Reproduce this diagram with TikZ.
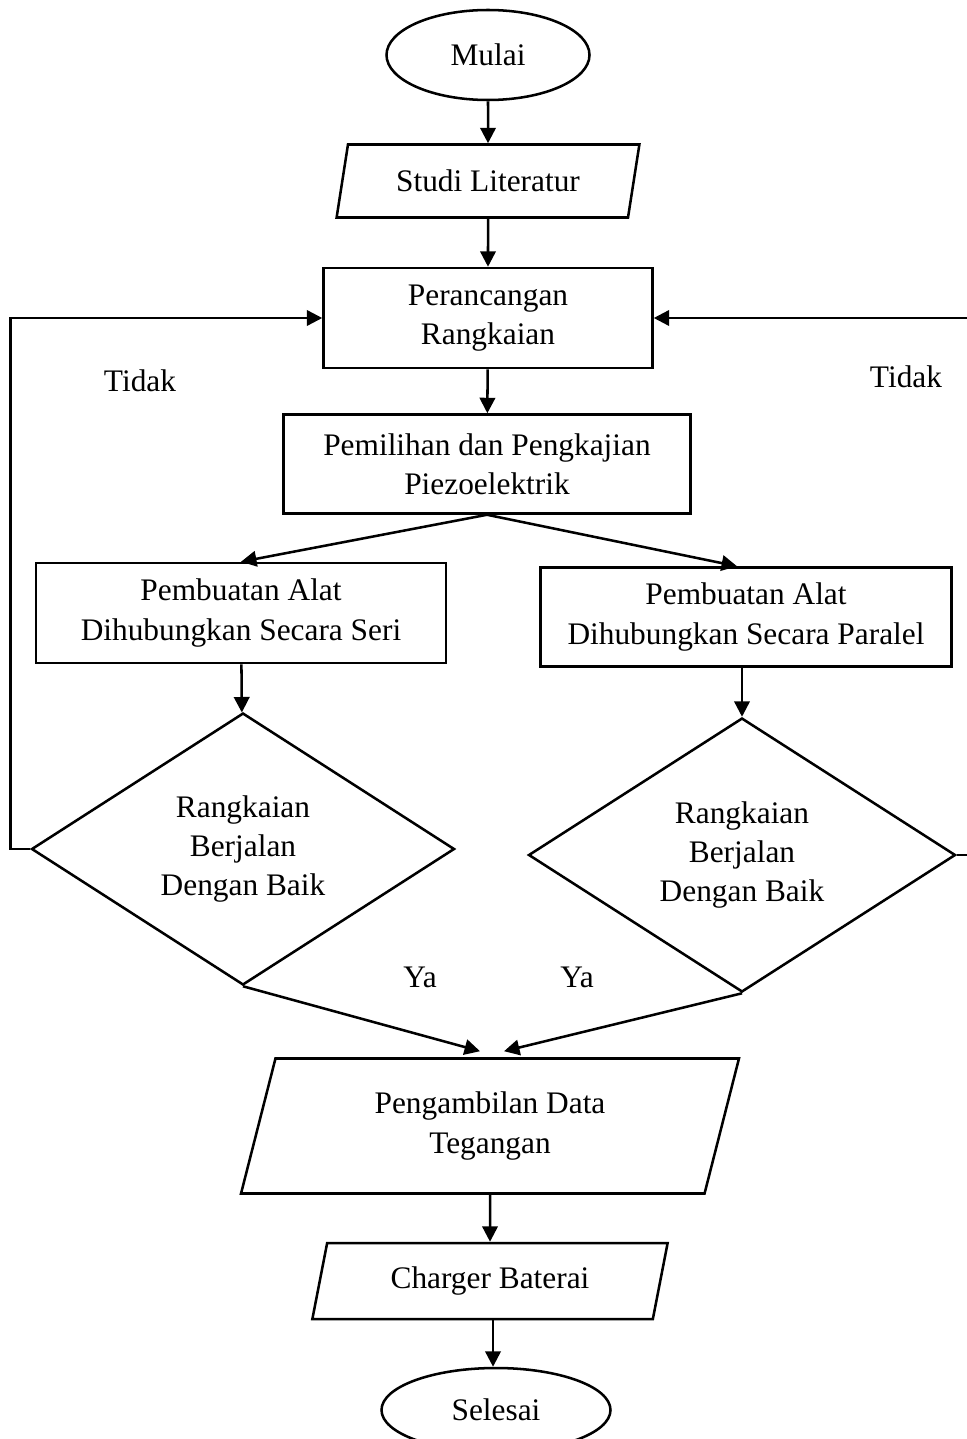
\documentclass[tikz,border=0pt]{standalone}
\usepackage{fontspec}
\setmainfont{Liberation Serif}
\usetikzlibrary{shapes.geometric,arrows.meta}
\newlength\px
\setlength\px{0.025cm}

\begin{document}
\begin{tikzpicture}[
    x=0.025cm, y=-0.025cm,
    font=\fontsize{22.3}{28}\selectfont,
    line width=1.8pt,
    terminal/.style={draw, ellipse, align=center},
    proses/.style={draw, rectangle, align=center},
    io/.style={draw, trapezium, trapezium left angle=76, trapezium right angle=104,
        trapezium stretches=true, align=center},
    keputusan/.style={draw, diamond, align=center, inner sep=0pt},
    teks/.style={inner sep=0pt},
    panah/.style={-{Triangle[length=11pt,width=11pt]}}
]
\useasboundingbox (0,0) rectangle (966,1439);

\node[terminal, minimum width=203\px, minimum height=90\px] (mulai) at (488,55) {Mulai};
\node[io, minimum width=303\px, minimum height=73\px] (studi) at (488,181) {Studi Literatur};
\node[proses, minimum width=329\px, minimum height=100\px] (rancang) at (488,318) {Perancangan \\ Rangkaian};
\node[proses, minimum width=407\px, minimum height=99\px] (pilih) at (487,464) {Pemilihan dan Pengkajian \\ Piezoelektrik};
\node[proses, minimum width=410\px, minimum height=100\px] (seri) at (241,613) {Pembuatan Alat \\ Dihubungkan Secara Seri};
\node[proses, minimum width=411\px, minimum height=99\px] (paralel) at (746,617) {Pembuatan Alat \\ Dihubungkan Secara Paralel};
\node[keputusan, minimum width=423\px, minimum height=272\px] (cekseri) at (243,849) {Rangkaian \\ Berjalan \\ Dengan Baik};
\node[keputusan, minimum width=427\px, minimum height=274\px] (cekparalel) at (742,855) {Rangkaian \\ Berjalan \\ Dengan Baik};
\node[io, minimum width=499\px, minimum height=135\px] (ambil) at (490,1126) {Pengambilan Data \\ Tegangan};
\node[io, minimum width=356\px, minimum height=76\px] (charger) at (490,1281) {Charger Baterai};
\node[terminal, minimum width=229\px, minimum height=84\px] (selesai) at (496,1410) {Selesai};

\node[teks] (tidak1) at (140,381) {Tidak};
\node[teks] (tidak2) at (906,377) {Tidak};
\node[teks] (ya1) at (420,977) {Ya};
\node[teks] (ya2) at (577,977) {Ya};

% alur utama
\draw[panah] (mulai) -- (studi);
\draw[panah] (studi) -- (rancang);
\draw[panah] (rancang) -- (pilih);
\draw[panah] (pilih.south) -- (seri.north);
\draw[panah] (pilih.south) -- ([xshift=-9\px]paralel.north);
\draw[panah] (seri) -- (cekseri);
\draw[panah] (paralel.south -| cekparalel.north) -- (cekparalel.north);
\draw[panah] (cekseri.south) -- ([xshift=-10\px,yshift=6\px]ambil.north);
\draw[panah] (cekparalel.south) -- ([xshift=14\px,yshift=6\px]ambil.north);
\draw[panah] (ambil.south) -- (charger.north);
\draw[panah] ([xshift=3\px]charger.south) -- ([xshift=3\px]charger.south |- selesai.north);

% kembali jika tidak
\draw[panah] (cekseri.west) -- ++(-20,0) |- (rancang.west);
\draw[panah] (cekparalel.east) -- ++(30,0) |- (rancang.east);
\end{tikzpicture}
\end{document}
